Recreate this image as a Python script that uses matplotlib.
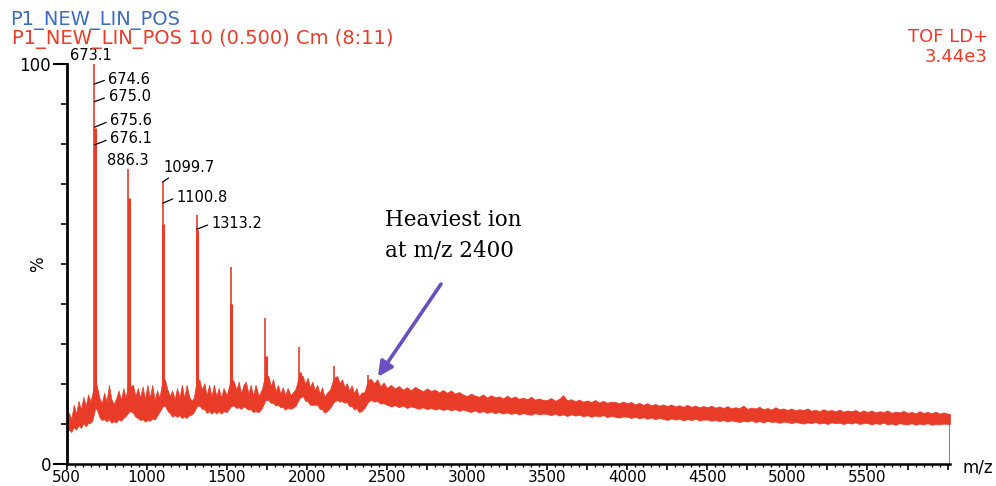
import matplotlib
matplotlib.use("Agg")
import matplotlib.pyplot as plt
from matplotlib.ticker import MultipleLocator, FixedLocator, FuncFormatter

# noise band of the spectrum (m/z, upper and lower edge in %)
# low mass part, peaks sit on top of it
low_mz = [500, 515, 530, 545, 560, 575, 590, 605, 620, 635, 650, 662, 680, 690,
          705, 720, 735, 750, 765, 780, 795, 810, 825, 840, 855, 870, 888, 900,
          915, 930, 945, 960, 975, 990, 1005, 1020, 1035, 1050, 1065, 1080, 1102, 1115,
          1130, 1145, 1160, 1175, 1190, 1205, 1220, 1235, 1250, 1265, 1280, 1295, 1315, 1330,
          1345, 1360, 1375, 1390, 1405, 1420, 1435, 1450, 1465, 1480, 1500, 1528, 1545,
          1560, 1575, 1590, 1605, 1620, 1635, 1650, 1665, 1680, 1700, 1720, 1742, 1760,
          1775, 1790, 1805, 1820, 1835, 1850, 1865, 1880, 1900, 1930, 1955, 1975,
          1990, 2005, 2020, 2035, 2050, 2065, 2080, 2095, 2110, 2125, 2145, 2168, 2190,
          2205, 2220, 2235, 2250, 2265, 2280, 2295, 2310, 2325, 2340, 2360, 2382, 2400,
          2420, 2440, 2460, 2480]
low_hi = [11.5, 12.8, 11.2, 14.8, 12.6, 15.8, 13.6, 16.8, 14.6, 17.4, 15.6, 17.8, 21.0, 19.5,
          16.6, 15.2, 17.8, 15.6, 19.8, 16.2, 15.0, 16.4, 18.4, 16.0, 19.0, 16.6, 21.0, 19.5,
          19.8, 17.0, 19.0, 16.6, 19.4, 16.2, 19.8, 16.6, 19.8, 16.0, 18.4, 16.6, 21.5, 21.0,
          18.6, 17.0, 18.4, 16.2, 19.0, 16.6, 19.8, 16.6, 19.8, 17.0, 15.8, 16.6, 21.5, 21.0,
          18.6, 20.2, 17.2, 19.8, 17.0, 19.8, 17.0, 19.0, 16.6, 19.0, 17.2, 21.5, 20.6,
          18.6, 20.6, 17.6, 19.8, 20.6, 17.6, 19.8, 17.0, 19.8, 17.0, 18.8, 22.5, 22.0,
          19.6, 21.2, 18.2, 19.8, 17.6, 19.2, 17.2, 19.0, 17.2, 18.8, 22.5, 22.0,
          20.0, 21.6, 19.2, 20.6, 18.4, 19.8, 17.6, 19.2, 16.8, 17.8, 18.6, 21.5, 22.0,
          20.2, 21.2, 19.2, 20.2, 18.4, 19.7, 17.7, 19.0, 16.8, 17.8, 18.0, 21.0, 21.3,
          20.2, 21.2, 19.4, 20.4]
low_lo = [8.0, 8.6, 8.0, 9.2, 8.6, 9.7, 9.0, 10.2, 9.4, 10.2, 10.3, 11.0, 14.0, 13.5,
          11.8, 11.0, 11.2, 10.6, 11.2, 10.3, 10.7, 10.4, 11.2, 10.8, 11.5, 12.0, 13.0, 13.2,
          12.8, 11.8, 11.5, 11.0, 11.2, 10.6, 11.0, 10.8, 11.4, 11.1, 12.0, 13.0, 14.5, 14.6,
          13.3, 12.7, 11.8, 12.2, 11.8, 12.2, 11.5, 11.9, 11.5, 12.2, 12.3, 13.0, 14.5, 14.6,
          13.8, 13.7, 12.8, 13.2, 12.6, 13.2, 12.6, 13.2, 12.6, 13.2, 13.0, 14.5, 14.6,
          14.0, 14.2, 13.8, 14.4, 14.0, 13.6, 13.7, 13.0, 13.2, 13.0, 14.0, 16.0, 16.0,
          15.3, 15.2, 14.6, 14.8, 14.2, 14.2, 13.6, 14.0, 13.8, 14.5, 16.5, 17.0,
          15.8, 15.7, 14.8, 14.8, 14.8, 14.8, 13.8, 13.7, 12.8, 13.2, 14.0, 15.5, 16.0,
          15.6, 15.7, 15.3, 15.5, 14.4, 14.5, 13.6, 14.0, 13.0, 13.2, 14.0, 15.5, 16.0,
          15.6, 15.7, 15.1, 15.2]

# high mass part, every 25 m/z from 2500 up to the end of the scan
high_mz = list(range(2500, 6001, 25)) + [6015]
high_hi = [19.0, 19.8, 18.9, 19.5, 18.6, 19.2, 18.4, 19.3, 18.7, 18.2, 18.9, 18.3, 18.6, 17.9, 18.5, 17.8, 18.4, 17.6, 18.0, 17.4,
           17.0, 17.6, 17.1, 16.8, 17.4, 16.6, 17.2, 16.7, 16.9, 16.4, 17.1, 16.5, 16.9, 16.3, 16.6, 16.2, 16.8, 16.1, 16.4, 16.0,
           16.0, 16.5, 15.8, 16.3, 17.2, 15.9, 16.2, 15.7, 16.1, 15.6, 15.9, 15.5, 16.0, 15.4, 15.8, 15.3, 15.6, 15.5, 15.2, 15.6,
           15.2, 15.5, 14.9, 15.3, 14.8, 15.2, 14.7, 15.0, 14.6, 14.9, 14.5, 14.9, 14.4, 14.7, 14.3, 14.8, 14.3, 14.6, 14.2, 14.5,
           14.2, 14.6, 14.1, 14.4, 14.0, 14.5, 13.9, 14.2, 14.0, 14.6, 13.8, 14.1, 13.9, 14.3, 13.7, 14.0, 13.6, 14.2, 13.7, 13.9,
           13.5, 13.9, 13.4, 13.7, 13.5, 13.9, 13.3, 13.6, 13.2, 13.7, 13.3, 13.5, 13.2, 13.6, 13.1, 13.4, 13.2, 13.5, 13.0, 13.4,
           13.0, 13.4, 12.9, 13.2, 13.0, 13.4, 12.8, 13.1, 12.9, 13.3, 12.8, 13.0, 12.7, 13.2, 12.8, 13.0, 12.7, 13.1, 12.6, 12.9,
           12.6, 12.5]
high_lo = [14.8, 14.4, 14.7, 14.2, 14.6, 14.0, 14.4, 14.1, 13.8, 14.2, 13.7, 14.0, 13.6, 13.9, 13.5, 13.8, 13.4, 13.7, 13.3, 13.6,
           13.3, 13.0, 13.4, 12.9, 13.2, 12.8, 13.1, 12.7, 13.0, 12.6, 12.9, 12.5, 12.8, 12.4, 12.7, 12.5, 12.3, 12.7, 12.4, 12.6,
           12.5, 12.2, 12.6, 12.1, 12.4, 12.0, 12.4, 12.1, 12.3, 11.9, 12.2, 11.8, 12.1, 11.9, 12.2, 11.7, 12.0, 11.8, 11.6, 11.9,
           11.8, 11.5, 11.8, 11.4, 11.7, 11.3, 11.6, 11.2, 11.5, 11.3, 11.0, 11.4, 11.1, 11.3, 10.9, 11.2, 11.0, 11.3, 10.9, 11.1,
           11.1, 10.8, 11.0, 10.7, 11.0, 10.6, 10.9, 10.7, 10.5, 10.8, 10.6, 10.9, 10.5, 10.7, 10.4, 10.8, 10.5, 10.6, 10.3, 10.6,
           10.5, 10.2, 10.5, 10.3, 10.1, 10.4, 10.2, 10.5, 10.1, 10.3, 10.0, 10.4, 10.2, 10.3, 10.0, 10.3, 10.1, 10.4, 10.0, 10.2,
           10.2, 9.9, 10.2, 10.0, 10.3, 9.9, 10.1, 9.8, 10.2, 10.0, 9.9, 10.2, 9.8, 10.1, 9.9, 10.2, 9.8, 10.0, 9.9, 10.1,
           10.0, 10.0]

# main peaks: position, top, height where the peak gets wider, foot
peak_mz = [673.1, 886.3, 1099.7, 1313.2, 1526.6, 1740.0, 1953.4, 2166.8, 2380.2]
peak_top = [100.0, 73.7, 70.5, 62.2, 49.2, 36.5, 29.3, 24.5, 22.2]
peak_step = [84.0, 66.5, 60.0, 58.5, 40.0, 27.0, 23.0, 20.5, 19.5]
peak_foot = [17.0, 18.0, 17.0, 16.0, 18.0, 18.0, 18.0, 18.0, 18.0]

# labelled masses and the intensity where each label sits
label_text = ["673.1", "674.6", "675.0", "675.6", "676.1", "886.3", "1099.7", "1100.8", "1313.2"]
label_mz = [673.1, 674.6, 675.0, 675.6, 676.1, 886.3, 1099.7, 1100.8, 1313.2]
label_int = [100.0, 95.0, 90.6, 84.2, 79.8, 73.7, 70.5, 65.2, 58.7]

x_ticks = [500, 1000, 1500, 2000, 2500, 3000, 3500, 4000, 4500, 5000, 5500]

band_mz = low_mz + high_mz
band_hi = low_hi + high_hi
band_lo = low_lo + high_lo

red = "#e83c28"
W, H = 996, 486

fig = plt.figure(figsize=(W / 100, H / 100), dpi=100)
ax = fig.add_axes([66.5 / W, 22 / H, 883.5 / W, 400 / H])

ax.fill_between(band_mz, band_lo, band_hi, color=red, lw=0.5, edgecolor=red)
ax.vlines(band_mz[-1], 0, band_hi[-1], color=red, lw=1.2)

# peaks: thin line up to the top, thicker lower part
ax.vlines(peak_mz, peak_foot, peak_top, color=red, lw=1.2)
ax.vlines([m + 3 for m in peak_mz], peak_foot, peak_step, color=red, lw=2.2)

# peak labels (offset in pixels, leader or not, where the leader meets the text)
offs = [(-24, 8), (14, 5), (14, 5), (15.5, 6.5), (15.5, 6), (-21.5, 9), (1, 15), (14, 6), (15, 5.7)]
leader = [False, True, True, True, True, False, True, True, True]
rel = [(0, 0.5)] * 6 + [(0.2, 0.0), (0, 0.5), (0, 0.5)]
for t, m, v, o, l, r in zip(label_text, label_mz, label_int, offs, leader, rel):
    kw = {}
    if l:
        kw["arrowprops"] = dict(arrowstyle="-", lw=0.9, color="black",
                                shrinkA=1, shrinkB=0, relpos=r)
    ax.annotate(t, xy=(m, v), xytext=o, textcoords="offset pixels",
                ha="left", va="center", fontsize=10.5, family="DejaVu Sans",
                annotation_clip=False, **kw)

# arrow and note about the heaviest ion
ax.annotate("", xy=(2444, 21.8), xytext=(2838, 45.0),
            arrowprops=dict(arrowstyle="-|>", lw=2.6, color="#6a4fbe",
                            mutation_scale=22, shrinkA=0, shrinkB=0))
ax.text(2488, 59.6, "Heaviest ion", family="DejaVu Serif", fontsize=15.5, va="baseline")
ax.text(2488, 51.9, "at m/z 2400", family="DejaVu Serif", fontsize=15.5, va="baseline")

ax.set_xlim(500, 6015)
ax.set_ylim(0, 100)

for s in ["top", "right"]:
    ax.spines[s].set_visible(False)
ax.spines["left"].set_linewidth(2.0)
ax.spines["bottom"].set_linewidth(1.8)

ax.xaxis.set_major_locator(MultipleLocator(250))
ax.xaxis.set_minor_locator(MultipleLocator(50))
ax.xaxis.set_major_formatter(FuncFormatter(lambda v, p: f"{int(v)}" if int(v) in x_ticks else ""))
ax.yaxis.set_major_locator(FixedLocator([0, 100]))
ax.yaxis.set_minor_locator(MultipleLocator(10))
ax.tick_params(axis="x", which="major", length=4, width=1.2, labelsize=11, pad=0)
ax.tick_params(axis="x", which="minor", length=2.5, width=1.0)
ax.tick_params(axis="y", which="major", length=10, width=1.5, labelsize=12, pad=1)
ax.tick_params(axis="y", which="minor", length=4, width=1.2)
ax.text(-0.032, 0.5, "%", transform=ax.transAxes, rotation=90, fontsize=12,
        ha="center", va="center")

# header texts from the instrument software
fig.text(10 / W, 1 - 20 / H, "P1_NEW_LIN_POS", color="#3d6cc0", fontsize=14, va="center")
fig.text(12 / W, 1 - 39 / H, "P1_NEW_LIN_POS 10 (0.500) Cm (8:11)", color=red,
         fontsize=14, va="center")
fig.text(988 / W, 1 - 37 / H, "TOF LD+", color=red, fontsize=13, va="center", ha="right")
fig.text(988 / W, 1 - 57 / H, "3.44e3", color=red, fontsize=13, va="center", ha="right")
fig.text(962 / W, 1 - 467 / H, "m/z", fontsize=12, va="center")

fig.savefig("out.png", dpi=100)
